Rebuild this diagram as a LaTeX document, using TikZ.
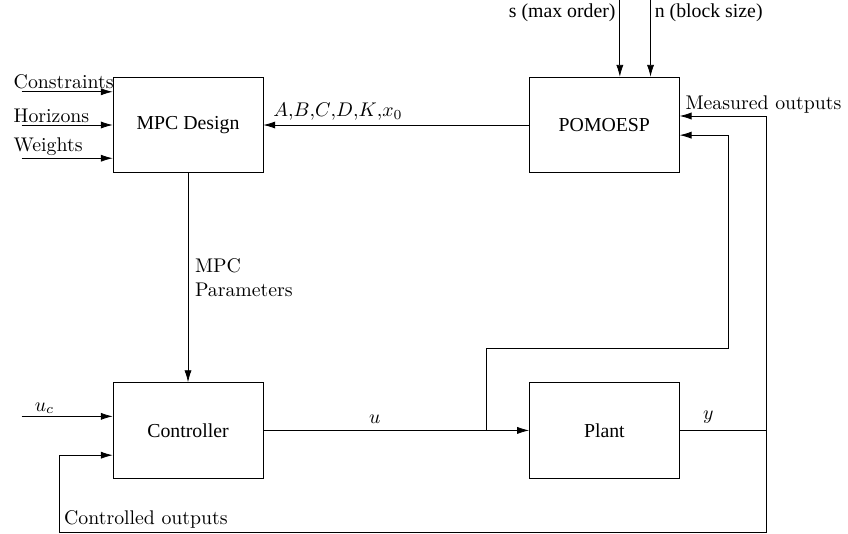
\documentclass[tikz,border=0pt]{standalone}
\usepackage{amsmath,amssymb}
\usepackage{fontspec}
\newfontfamily\boxfont{Liberation Serif}
\usepackage{tikz}
\usetikzlibrary{positioning,arrows.meta}

\begin{document}
\begin{tikzpicture}[
  >={Latex[length=6pt,width=3.6pt]}, node distance=3.71cm and 4.72cm,
  box/.style={draw, font=\boxfont, minimum width=2.66cm, minimum height=1.70cm, inner sep=0pt},
  lab/.style={inner sep=1pt},
  parm/.style={font=\boxfont, inner sep=2pt}]
\useasboundingbox (0,0) rectangle (15.06,-9.466);
\node[box] (mpc) at (3.339,-2.220) {MPC Design};
\node[box, right=of mpc] (pomoesp) {POMOESP};
\node[box, below=of mpc] (ctrl) {Controller};
\node[box, right=of ctrl] (plant) {Plant};
\coordinate[right=3.96cm of ctrl] (junc);
\coordinate[right=1.545cm of plant] (yout);
\coordinate (cbot) at ([xshift=-9.4mm, yshift=-18.1mm]ctrl.west);
% design inputs
\draw[->] ([xshift=-16.2mm, yshift=5.9mm]mpc.west) -- node[lab, pos=0, above right, xshift=-1.8mm]{Constraints} ([yshift=5.9mm]mpc.west);
\draw[->] ([xshift=-16.2mm]mpc.west) -- node[lab, pos=0, above right, xshift=-1.8mm]{Horizons} (mpc.west);
\draw[->] ([xshift=-16.2mm, yshift=-5.9mm]mpc.west) -- node[lab, pos=0, above right, xshift=-1.8mm]{Weights} ([yshift=-5.9mm]mpc.west);
\draw[->] ([xshift=2.75mm, yshift=13.7mm]pomoesp.north) -- node[parm, pos=0, below left]{s (max order)} ([xshift=2.75mm]pomoesp.north);
\draw[->] ([xshift=8.2mm, yshift=13.7mm]pomoesp.north) -- node[parm, pos=0, below right]{n (block size)} ([xshift=8.2mm]pomoesp.north);
\draw[->] (pomoesp) -- node[pos=1, above right, xshift=1mm, inner sep=2pt]{$A$,$B$,$C$,$D$,$K$,$x_0$} (mpc);
\draw[->] (mpc) -- node[right, align=left]{MPC\\Parameters} (ctrl);
% loop
\draw[->] ([xshift=-16.2mm, yshift=2.5mm]ctrl.west) -- node[lab, pos=0.12, above right]{$u_c$} ([yshift=2.5mm]ctrl.west);
\draw (ctrl) -- node[above]{$u$} (junc);
\draw[->] (junc) -- (plant);
\draw (plant) -- node[pos=0.33, above]{$y$} (yout);
\draw[->] (yout) |- node[pos=0.98, above right, inner sep=1pt]{Measured outputs} ([yshift=1.6mm]pomoesp.east);
\draw[->] (junc) -- ++(0,14.6mm) -| ([xshift=8.7mm, yshift=-1.8mm]pomoesp.east) -- ([yshift=-1.8mm]pomoesp.east);
\draw[->] (yout) |- (cbot) node[above right, inner sep=2pt]{Controlled outputs} |- ([yshift=-4.4mm]ctrl.west);
\end{tikzpicture}
\end{document}
